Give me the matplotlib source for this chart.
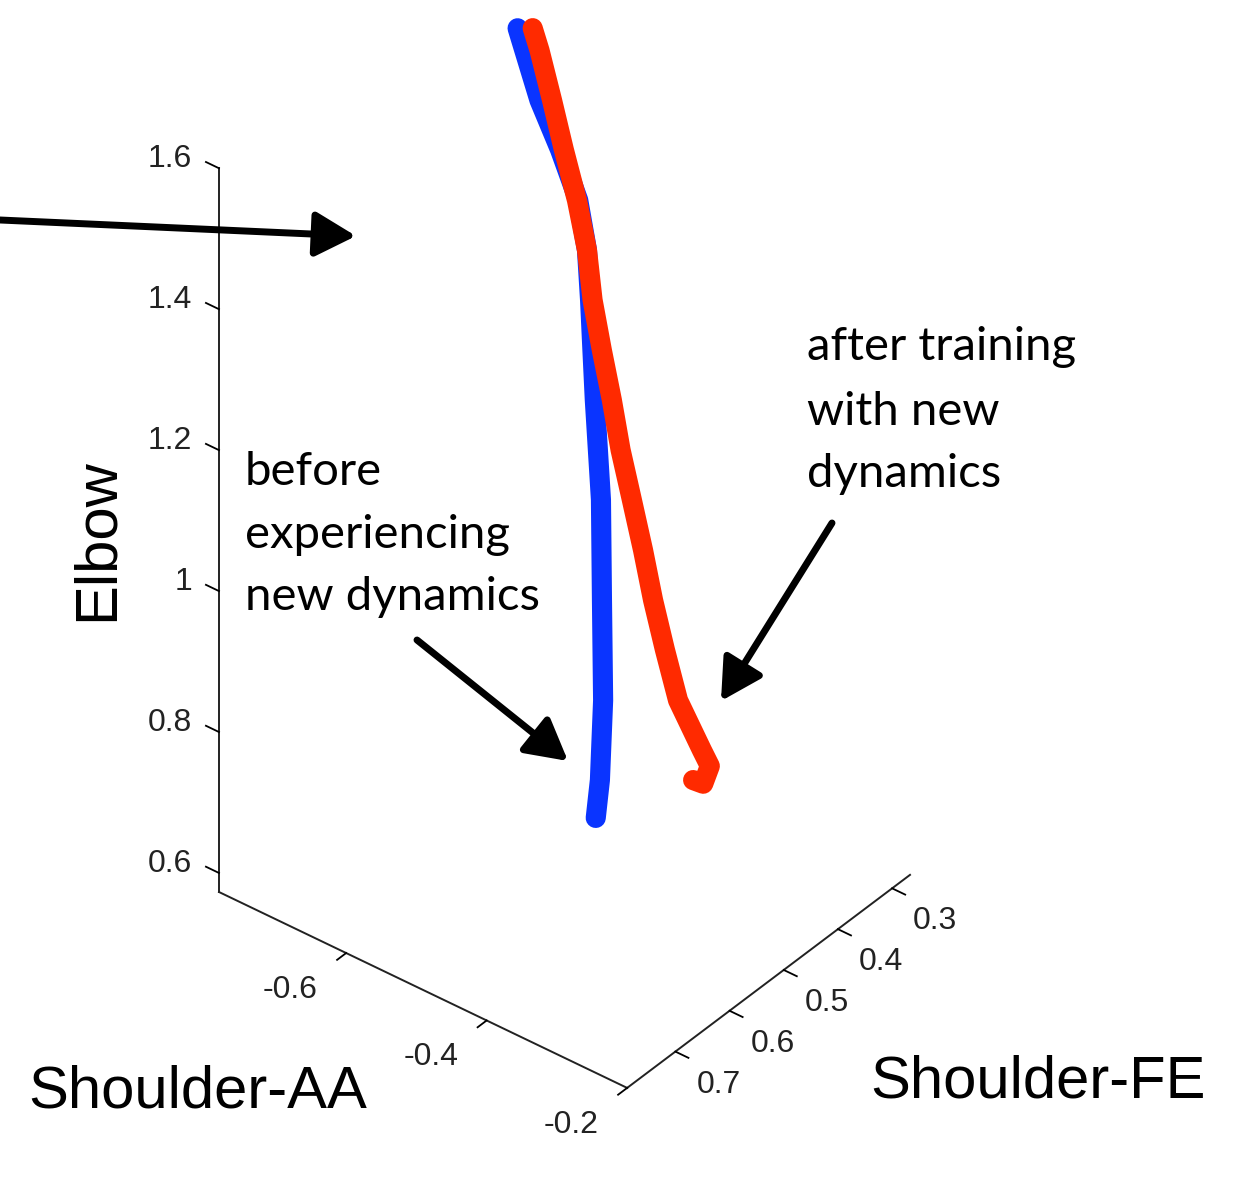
import numpy as np
import matplotlib
matplotlib.use('Agg')
import matplotlib.pyplot as plt
from matplotlib.patches import FancyArrowPatch
from mpl_toolkits.mplot3d import proj3d

W, H = 1236, 1185

# joint angle trajectories (rad): shoulder flexion/extension, shoulder abd/adduction, elbow
before_fe = [0.365, 0.361, 0.354, 0.349, 0.351, 0.357, 0.363, 0.369, 0.381, 0.396, 0.412, 0.427, 0.436]
before_aa = [-0.683, -0.655, -0.631, -0.609, -0.595, -0.586, -0.578, -0.570, -0.552, -0.539, -0.525, -0.518, -0.517]
before_elbow = [1.600, 1.509, 1.446, 1.382, 1.319, 1.256, 1.192, 1.129, 1.003, 0.876, 0.749, 0.648, 0.600]

after_fe = [0.354, 0.353, 0.352, 0.351, 0.350, 0.351, 0.355, 0.356, 0.357, 0.359, 0.359, 0.359,
            0.360, 0.359, 0.358, 0.349, 0.346, 0.353, 0.360]
after_aa = [-0.670, -0.661, -0.644, -0.628, -0.610, -0.595, -0.584, -0.570, -0.555, -0.541, -0.525,
            -0.509, -0.494, -0.478, -0.460, -0.433, -0.424, -0.428, -0.437]
after_elbow = [1.600, 1.572, 1.509, 1.446, 1.382, 1.319, 1.256, 1.192, 1.129, 1.066, 1.003, 0.939,
               0.876, 0.813, 0.749, 0.686, 0.666, 0.643, 0.648]

fe_lim = (0.267, 0.789)
aa_lim = (-0.781, -0.2)
elbow_lim = (0.573, 1.6)

fe_ticks = [0.3, 0.4, 0.5, 0.6, 0.7]
fe_labels = ['0.3', '0.4', '0.5', '0.6', '0.7']
aa_ticks = [-0.6, -0.4, -0.2]
aa_labels = ['-0.6', '-0.4', '-0.2']
elbow_ticks = [0.6, 0.8, 1.0, 1.2, 1.4, 1.6]
elbow_labels = ['0.6', '0.8', '1', '1.2', '1.4', '1.6']

BLUE = '#0a34ff'
RED = '#ff2a00'

fig = plt.figure(figsize=(W / 100, H / 100), dpi=100)
S = 1000
ax = fig.add_axes([0, 0, S / W, S / H], projection='3d', proj_type='ortho')
ax.computed_zorder = False

ax.plot(before_fe, before_aa, before_elbow, color=BLUE, lw=14.5, solid_capstyle='round', zorder=2)
ax.plot(after_fe, after_aa, after_elbow, color=RED, lw=14.5, solid_capstyle='round', zorder=3)

for setter, lim in ((ax.set_xlim, fe_lim), (ax.set_ylim, aa_lim), (ax.set_zlim, elbow_lim)):
    try:
        setter(*lim, view_margin=0)
    except TypeError:
        setter(*lim)

# ticks from the library, labels drawn below in the overlay (MATLAB-like placement)
ax.set_xticks(fe_ticks)
ax.set_xticklabels([''] * len(fe_ticks))
ax.set_yticks(aa_ticks)
ax.set_yticklabels([''] * len(aa_ticks))
ax.set_zticks(elbow_ticks)
ax.set_zticklabels([''] * len(elbow_ticks))

ax.set_box_aspect((453.5, 522.4, 906))
ax.view_init(elev=36.96, azim=38.6)
ax.grid(False)
# z ticks point along the Shoulder-AA direction, like the original
ax.zaxis._get_tickdir = lambda *a, **k: 1
for axis in (ax.xaxis, ax.yaxis, ax.zaxis):
    axis.set_pane_color((1, 1, 1, 0))
    axis.pane.set_edgecolor((1, 1, 1, 0))
    axis.line.set_color('#222222')
    axis.line.set_linewidth(1.4)
    axis._axinfo['tick']['color'] = '#222222'
    axis._axinfo['tick']['linewidth'] = {True: 1.3, False: 1.0}
# bottom axes: ticks stick out away from the box
for axis in (ax.xaxis, ax.yaxis):
    axis._axinfo['tick']['inward_factor'] = 0.4
    axis._axinfo['tick']['outward_factor'] = 0.0
ax.zaxis._axinfo['tick']['inward_factor'] = 0.0
ax.zaxis._axinfo['tick']['outward_factor'] = 0.4

# fit the projected box onto the pixel positions of the reference
fig.canvas.draw()


def to_px(x, y, z):
    xs, ys, _ = proj3d.proj_transform(x, y, z, ax.get_proj())
    return ax.transData.transform((xs, ys))


p0 = to_px(fe_lim[1], aa_lim[0], elbow_lim[0])
p2 = to_px(fe_lim[0], aa_lim[1], elbow_lim[0])
t0 = np.array([219, H - 892])
t2 = np.array([910, H - 875])
f0 = p0 / S
f2 = p2 / S
S2 = (t2[0] - t0[0]) / (f2[0] - f0[0])
o2 = t0 - S2 * f0
ax.set_position([o2[0] / W, o2[1] / H, S2 / W, S2 / H])
fig.canvas.draw()

# overlay in pixel coordinates for labels and annotations
ov = fig.add_axes([0, 0, 1, 1], zorder=10)
ov.set_xlim(0, W)
ov.set_ylim(H, 0)
ov.axis('off')

tick_font = dict(family='Liberation Sans', fontsize=23, color='#222222')
for v, lab in zip(elbow_ticks, elbow_labels):
    px, py = to_px(fe_lim[1], aa_lim[0], v)
    ov.text(px - 27, H - py - 9, lab, ha='right', va='center', **tick_font)
for v, lab in zip(aa_ticks, aa_labels):
    px, py = to_px(fe_lim[1], v, elbow_lim[0])
    ov.text(px - 56, H - py + 37, lab, ha='center', va='center', **tick_font)
for v, lab in zip(fe_ticks, fe_labels):
    px, py = to_px(v, aa_lim[1], elbow_lim[0])
    ov.text(px + 43, H - py + 33, lab, ha='center', va='center', **tick_font)

note_font = dict(family='Lato', fontsize=34, color='black')
for txt, y in (('before', 485), ('experiencing', 548), ('new dynamics', 610)):
    ov.text(245, y, txt, va='baseline', ha='left', **note_font)
for txt, y in (('after training', 360), ('with new', 425), ('dynamics', 487)):
    ov.text(807, y, txt, va='baseline', ha='left', **note_font)

label_font = dict(family='Liberation Sans', fontsize=43, color='black')
ov.text(28, 1108, 'Shoulder-AA', va='baseline', ha='left', **label_font)
ov.text(870, 1097, 'Shoulder-FE', va='baseline', ha='left', **label_font)
ov.text(113, 540, 'Elbow', va='baseline', ha='center', rotation=90, rotation_mode='anchor', **label_font)

arrows = [((0, 220), (356, 236)), ((417, 640), (568, 761)), ((832, 523), (721, 701))]
for tail, tip in arrows:
    ov.add_patch(FancyArrowPatch(tail, tip, arrowstyle='-|>,head_length=1.0,head_width=0.55',
                                 mutation_scale=25, lw=5, color='black', shrinkA=0, shrinkB=0))

fig.savefig('out.png', dpi=100)
